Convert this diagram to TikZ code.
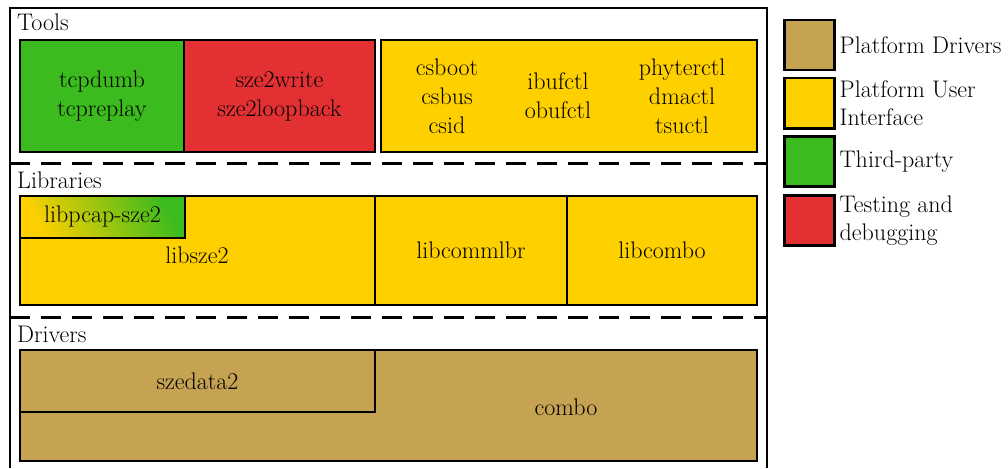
\documentclass[tikz,border=0pt]{standalone}
\usepackage{tikz}
\usetikzlibrary{positioning}
\definecolor{drvbrown}{RGB}{198,163,82}
\definecolor{uiyellow}{RGB}{255,208,0}
\definecolor{thirdgreen}{RGB}{60,187,30}
\definecolor{testred}{RGB}{227,49,51}
\tikzstyle{txt}=[inner sep=0pt, align=center, font=\fontsize{24}{29}\selectfont]
\tikzstyle{blk}=[txt, draw, line width=2.5pt, outer sep=0pt, anchor=north west]
\tikzstyle{title}=[txt, anchor=base west]
\tikzstyle{frame}=[draw, line width=2pt]
\tikzstyle{sep}=[draw, line width=3pt, dash pattern=on 20pt off 11pt]
\tikzstyle{legbox}=[draw, line width=2.5pt, minimum size=50pt, anchor=north west]
\tikzstyle{legtxt}=[txt, align=left, font=\fontsize{24}{28}\selectfont]
\newcommand{\legitem}[4]{\node (lg#1)[legbox, fill=#3] at (783,#2) {};
  \node (lt#1)[legtxt, right=4pt of lg#1] {#4};}

\begin{document}
\begin{tikzpicture}[x=1pt,y=-1pt]
		\useasboundingbox (0,0) rectangle (1008,468);
		
		% Frame and layer separators
		\draw [frame] (10,468) -- (10,8) -- (767,8) -- (767,468);
		\draw [sep] (10,163) -- (767,163);
		\draw [sep] (10,317) -- (767,317);
		
		% Layer titles
		\node (tools)[title] at (17,31) {Tools};
		\node (libs)[title] at (17,188) {Libraries};
		\node (drivers)[title] at (17,342) {Drivers};
		
		% Tools
		\node (tcp)[blk, fill=thirdgreen, minimum width=164, minimum height=112] at (20,40) {tcpdumb\\tcpreplay};
		\node (szew)[blk, fill=testred, minimum width=191, minimum height=112] at (184,40) {sze2write\\sze2loopback};
		\node (ctl)[blk, fill=uiyellow, minimum width=376, minimum height=112] at (381,40) {};
		\node (cs)[txt] at (447,96) {csboot\\csbus\\csid};
		\node (buf)[txt] at (558,96) {ibufctl\\obufctl};
		\node (phy)[txt] at (682,96) {phyterctl\\dmactl\\tsuctl};
		
		% Libraries
		\node (libsze)[blk, fill=uiyellow, minimum width=355, minimum height=109] at (20,196) {};
		\node (libszet)[txt] at (197,255) {libsze2};
		\node (pcap)[blk, left color=uiyellow, right color=thirdgreen, shading angle=120, minimum width=165, minimum height=42] at (20,196) {libpcap-sze2};
		\node (comm)[blk, fill=uiyellow, minimum width=192, minimum height=109] at (375,196) {libcommlbr};
		\node (lcombo)[blk, fill=uiyellow, minimum width=190, minimum height=109] at (567,196) {libcombo};
		
		% Drivers
		\node (combo)[blk, fill=drvbrown, minimum width=737, minimum height=111] at (20,350) {};
		\node (combot)[txt] at (566,407) {combo};
		\node (szed)[blk, fill=drvbrown, minimum width=355, minimum height=62] at (20,350) {szedata2};
		
		% Legend
		\legitem{drv}{19}{drvbrown}{Platform Drivers}
		\legitem{ui}{77}{uiyellow}{Platform User\\Interface}
		\legitem{tp}{135}{thirdgreen}{Third-party}
		\legitem{test}{194}{testred}{Testing and\\debugging}
		
\end{tikzpicture}
\end{document}
